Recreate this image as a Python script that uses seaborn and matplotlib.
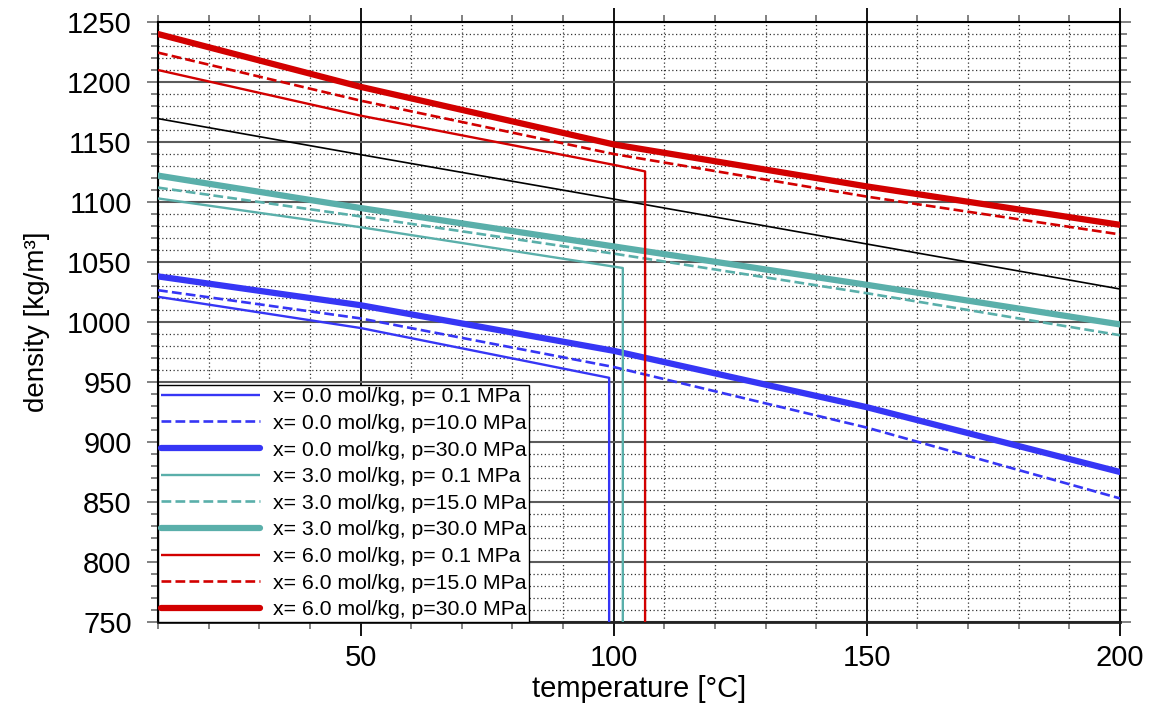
import numpy as np
import pandas as pd
import matplotlib
matplotlib.use("Agg")
import matplotlib.pyplot as plt
from matplotlib.ticker import MultipleLocator
import seaborn as sns

# ---- data ----
T_grid = [10, 50, 100, 150, 200]

# x = 0.0 mol/kg
x0_p01_T = [10, 50, 99.1, 99.1]
x0_p01_rho = [1021, 995, 953.5, 0.6]
x0_p10_rho = [1026.5, 1003, 962.5, 912, 853]
x0_p30_rho = [1038, 1014, 976, 929, 875]

# x = 3.0 mol/kg
x3_p01_T = [10, 50, 101.8, 101.8]
x3_p01_rho = [1103, 1079, 1045, 0.6]
x3_p15_rho = [1112, 1088, 1057, 1024, 989]
x3_p30_rho = [1122, 1095, 1063, 1031, 998]

# x = 6.0 mol/kg
x6_p01_T = [10, 50, 100, 106.2, 106.2]
x6_p01_rho = [1210, 1172, 1131, 1125.5, 0.6]
x6_p15_rho = [1224.5, 1184.5, 1140, 1104.5, 1073]
x6_p30_rho = [1240, 1196, 1148, 1113, 1081]

# reference line (no legend entry)
ref_rho = [1169.5, 1139.5, 1102.5, 1065, 1027.5]

labels = [
    "x= 0.0 mol/kg, p= 0.1 MPa",
    "x= 0.0 mol/kg, p=10.0 MPa",
    "x= 0.0 mol/kg, p=30.0 MPa",
    "x= 3.0 mol/kg, p= 0.1 MPa",
    "x= 3.0 mol/kg, p=15.0 MPa",
    "x= 3.0 mol/kg, p=30.0 MPa",
    "x= 6.0 mol/kg, p= 0.1 MPa",
    "x= 6.0 mol/kg, p=15.0 MPa",
    "x= 6.0 mol/kg, p=30.0 MPa",
]

series = [
    (x0_p01_T, x0_p01_rho), (T_grid, x0_p10_rho), (T_grid, x0_p30_rho),
    (x3_p01_T, x3_p01_rho), (T_grid, x3_p15_rho), (T_grid, x3_p30_rho),
    (x6_p01_T, x6_p01_rho), (T_grid, x6_p15_rho), (T_grid, x6_p30_rho),
]

rows = []
for lab, (ts, rs) in zip(labels, series):
    for i, (t, r) in enumerate(zip(ts, rs)):
        rows.append({"series": lab, "T": t, "rho": r, "order": i})
for i, (t, r) in enumerate(zip(T_grid, ref_rho)):
    rows.append({"series": "ref", "T": t, "rho": r, "order": i})
df = pd.DataFrame(rows)

# ---- style ----
sns.set_theme(style="white")
plt.rcParams["font.family"] = ["Liberation Sans", "DejaVu Sans"]
plt.rcParams["text.color"] = "black"
plt.rcParams["axes.labelcolor"] = "black"
plt.rcParams["xtick.labelcolor"] = "black"
plt.rcParams["ytick.labelcolor"] = "black"

blue = "#3636F5"
teal = "#5AAFAA"
red = "#D20000"
thin, dash, thick = 1.7, 1.9, 4.5
styles = [
    (blue, "-", thin), (blue, "--", dash), (blue, "-", thick),
    (teal, "-", thin), (teal, "--", dash), (teal, "-", thick),
    (red, "-", thin), (red, "--", dash), (red, "-", thick),
]

fig = plt.figure(figsize=(11.52, 7.04), dpi=100)
ax = fig.add_axes([0.1372, 0.1165, 0.8350, 0.8522])

# reference black line
sub = df[df["series"] == "ref"].sort_values("order")
sns.lineplot(data=sub, x="T", y="rho", ax=ax, estimator=None, sort=False,
             color="black", lw=1.2, label="_nolegend_", zorder=3)

for lab, (c, ls, lw) in zip(labels, styles):
    sub = df[df["series"] == lab].sort_values("order")
    sns.lineplot(data=sub, x="T", y="rho", ax=ax, estimator=None, sort=False,
                 color=c, lw=lw, linestyle=ls, label=lab, zorder=3,
                 solid_capstyle="round" if lw > 3 else "butt")

ax.set_xlim(10, 200)
ax.set_ylim(750, 1250)
ax.xaxis.set_major_locator(MultipleLocator(50))
ax.xaxis.set_minor_locator(MultipleLocator(10))
ax.yaxis.set_major_locator(MultipleLocator(50))
ax.yaxis.set_minor_locator(MultipleLocator(10))

ax.grid(False)
ax.grid(which="minor", axis="both", color="#333333", linestyle=(0, (1, 2)), lw=0.9, zorder=1)
ax.grid(which="major", axis="x", color="black", linestyle="-", lw=1.3, zorder=1)
ax.grid(which="major", axis="y", color="#5a5a5a", linestyle="-", lw=1.5, zorder=1)
ax.set_axisbelow(True)

for s in ax.spines.values():
    s.set_visible(True)
    s.set_color("black")
    s.set_linewidth(1.5)
ax.spines["bottom"].set_color("#222222")
ax.spines["bottom"].set_linewidth(2.0)

ax.tick_params(which="both", direction="out", top=True, right=True,
               left=True, bottom=True, color="#777777")
ax.tick_params(which="major", length=8, width=1.3, labelsize=21)
ax.tick_params(which="minor", length=5, width=1.3)
ax.tick_params(axis="x", which="major", color="black", length=10, width=1.3, pad=6)
ax.tick_params(axis="y", which="major", pad=11)

ax.set_xlabel("temperature [°C]", fontsize=21, labelpad=2)
ax.set_ylabel("density [kg/m³]", fontsize=20, labelpad=12)

leg = ax.legend(loc="lower left", fontsize=15.3, frameon=True, fancybox=False,
                borderaxespad=0.0, borderpad=0.12, labelspacing=0.36,
                handlelength=4.7, handletextpad=0.6, framealpha=1.0)
leg.get_frame().set_edgecolor("black")
leg.get_frame().set_linewidth(1.0)
leg.set_zorder(5)

fig.savefig("out.png", dpi=100)
